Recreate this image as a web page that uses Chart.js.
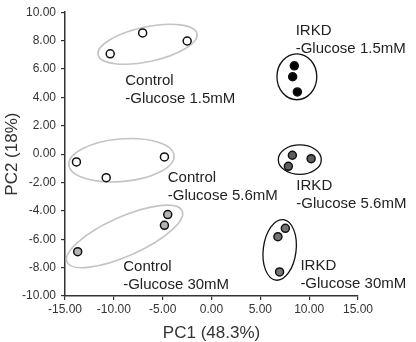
<!DOCTYPE html>
<html>
<head>
<meta charset="utf-8">
<script src="https://cdn.jsdelivr.net/npm/chart.js@4.4.1/dist/chart.umd.min.js"></script>
<style>
    html, body { margin: 0; padding: 0; background: #fff; }
    canvas { display: block; }
</style>
</head>
<body>
<canvas id="pca-canvas" width="416" height="342"></canvas>
<script>
// groups in drawing order
const groupNames = [
    ['Control', '-Glucose 1.5mM'],
    ['Control', '-Glucose 5.6mM'],
    ['Control', '-Glucose 30mM'],
    ['IRKD', '-Glucose 1.5mM'],
    ['IRKD', '-Glucose 5.6mM'],
    ['IRKD', '-Glucose 30mM'],
];
const pc1Values = [
    [-10.37, -7.05, -2.49],
    [-13.83, -10.78, -4.82],
    [-13.70, -4.48, -4.82],
    [8.48, 8.31, 8.79],
    [8.28, 10.20, 7.87],
    [7.56, 6.80, 6.97],
];
const pc2Values = [
    [7.07, 8.54, 7.97],
    [-0.55, -1.66, -0.20],
    [-6.88, -4.26, -5.02],
    [6.22, 5.45, 4.38],
    [-0.08, -0.32, -0.86],
    [-5.23, -5.82, -8.30],
];
const xTicks = [-15, -10, -5, 0, 5, 10, 15];
const yTicks = [-10, -8, -6, -4, -2, 0, 2, 4, 6, 8, 10];

// cluster ellipses (centre and radii in PC units, tilt in degrees)
const ellipseCx = [-6.55, -9.22, -8.90, 8.74, 9.04, 6.98];
const ellipseCy = [7.74, -0.43, -5.80, 5.45, -0.39, -6.75];
const ellipseRx = [5.18, 5.41, 6.45, 2.04, 2.20, 1.68];
const ellipseRy = [1.22, 1.50, 1.38, 1.62, 1.04, 2.15];
const ellipseTilt = [-12, -5, -24, 0, 0, 7];

// where each group's caption starts (PC units)
const captionX = [-8.83, -4.48, -9.04, 8.62, 8.69, 9.10];
const captionY = [5.16, -1.69, -7.92, 8.72, -2.21, -7.87];

const fillColors = ['#ffffff', '#ffffff', '#b4b4b4', '#000000', '#5e5e5e', '#747474'];
const ellipseColors = ['#c4c4c4', '#c4c4c4', '#c4c4c4', '#111111', '#111111', '#111111'];

const FONT = "'Liberation Sans', Arial, sans-serif";

const datasets = groupNames.map((name, i) => ({
    label: name.join(' '),
    data: pc1Values[i].map((v, j) => ({ x: v, y: pc2Values[i][j] })),
    backgroundColor: fillColors[i],
    borderColor: '#111111',
    borderWidth: 1.5,
    pointRadius: 4,
}));

const groupDecor = {
    id: 'groupDecor',
    beforeDatasetsDraw(chart) {
        const { ctx, scales: { x, y } } = chart;
        ellipseCx.forEach((cxv, i) => {
            const cx = x.getPixelForValue(cxv);
            const cy = y.getPixelForValue(ellipseCy[i]);
            const rx = Math.abs(x.getPixelForValue(cxv + ellipseRx[i]) - cx);
            const ry = Math.abs(y.getPixelForValue(ellipseCy[i] + ellipseRy[i]) - cy);
            ctx.save();
            ctx.beginPath();
            ctx.ellipse(cx, cy, rx, ry, ellipseTilt[i] * Math.PI / 180, 0, Math.PI * 2);
            ctx.strokeStyle = ellipseColors[i];
            ctx.lineWidth = i < 3 ? 1.6 : 1.3;
            ctx.stroke();
            ctx.restore();
        });
    },
    afterDatasetsDraw(chart) {
        const { ctx, scales: { x, y } } = chart;
        ctx.save();
        ctx.font = '15px ' + FONT;
        ctx.fillStyle = '#222222';
        ctx.textAlign = 'left';
        ctx.textBaseline = 'middle';
        groupNames.forEach((lines, i) => {
            const px = x.getPixelForValue(captionX[i]);
            const py = y.getPixelForValue(captionY[i]);
            lines.forEach((line, k) => ctx.fillText(line, px, py + k * 18));
        });
        ctx.restore();
    }
};

new Chart(document.getElementById('pca-canvas').getContext('2d'), {
    type: 'scatter',
    data: { datasets },
    plugins: [groupDecor],
    options: {
        responsive: false,
        animation: false,
        layout: {
            padding: { top: 12, right: 58, bottom: 0, left: 0 },
        },
        plugins: {
            legend: { display: false },
            tooltip: { enabled: false },
        },
        scales: {
            x: {
                type: 'linear',
                min: -15,
                max: 15,
                afterBuildTicks: (scale) => { scale.ticks = xTicks.map(v => ({ value: v })); },
                afterFit: (scale) => { scale.height = 46; },
                border: { display: true, color: '#333333', width: 1.5 },
                grid: { display: true, drawOnChartArea: false, tickLength: 4, color: '#333333', lineWidth: 1.2 },
                ticks: {
                    padding: 2,
                    color: '#333333',
                    font: { family: FONT, size: 12 },
                    callback: (v) => Number(v).toFixed(2),
                },
                title: {
                    display: true,
                    text: 'PC1 (48.3%)',
                    color: '#333333',
                    font: { family: FONT, size: 17, lineHeight: 1.0 },
                    padding: 0,
                },
            },
            y: {
                type: 'linear',
                min: -10,
                max: 10,
                afterBuildTicks: (scale) => { scale.ticks = yTicks.map(v => ({ value: v })); },
                afterFit: (scale) => { scale.width = 65; },
                border: { display: true, color: '#333333', width: 1.5 },
                grid: { display: true, drawOnChartArea: false, tickLength: 4, color: '#333333', lineWidth: 1.2 },
                ticks: {
                    padding: 5,
                    color: '#333333',
                    font: { family: FONT, size: 12 },
                    callback: (v) => Number(v).toFixed(2),
                },
                title: {
                    display: true,
                    text: 'PC2 (18%)',
                    color: '#333333',
                    font: { family: FONT, size: 17, lineHeight: 1.2 },
                    padding: { top: 2, bottom: 0 },
                },
            },
        },
    },
});
</script>
</body>
</html>
